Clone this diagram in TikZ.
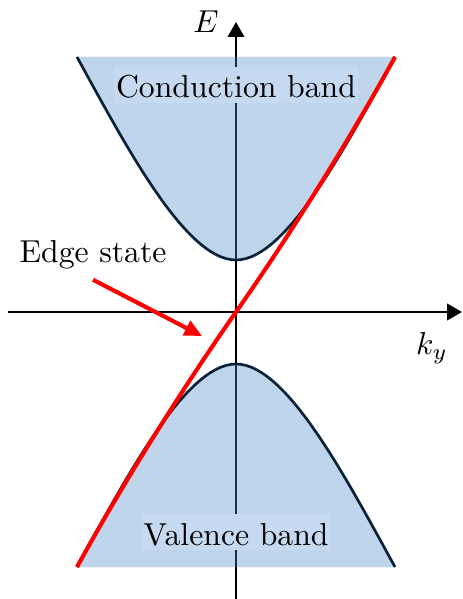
\documentclass[tikz,border=0pt]{standalone}
\usetikzlibrary{arrows.meta}

\definecolor{bandfill}{RGB}{72,136,197}
\definecolor{bandline}{RGB}{10,34,56}
\definecolor{labelfill}{RGB}{197,218,240}

\begin{document}
\begin{tikzpicture}[
  x=3.15pt, y=3.15pt,
  axis/.style={draw, line width=0.65pt, -{Triangle[length=4.7pt,width=5.2pt]}},
  band/.style={fill=bandfill, fill opacity=0.35},
  bandedge/.style={draw=bandline, line width=0.85pt},
  edgecurve/.style={draw=red, line width=1.3pt},
  arrow/.style={draw=red, line width=1.3pt, -{Triangle[length=5.5pt,width=5pt]}},
  bandlabel/.style={fill=labelfill, inner xsep=0.5pt, inner ysep=1.5pt,
                    text height=8.3pt, text depth=0pt, anchor=base}]

  \useasboundingbox (-23.6,-28.7) rectangle (22.6,31.2);

  % ---- axes ---------------------------------------------------------------
  \coordinate (kmin) at (-22.8,0);
  \coordinate (kmax) at (22.6,0);
  \coordinate (Emin) at (0,-28.7);
  \coordinate (Emax) at (0,29.0);
  \draw[axis] (kmin) -- (kmax);
  \draw[axis] (Emin) -- (Emax);

  % ---- bands --------------------------------------------------------------
  \path[band] (-15.9,25.5) .. controls (-10.9,16.4) and (-5,5.2) .. (0,5.2)
              .. controls (5,5.2) and (10.9,16.4) .. (15.9,25.5) -- cycle;
  \path[band] (-15.9,-25.5) .. controls (-10.9,-16.4) and (-5,-5.2) .. (0,-5.2)
              .. controls (5,-5.2) and (10.9,-16.4) .. (15.9,-25.5) -- cycle;
  \draw[bandedge] (-15.9,25.5) .. controls (-10.9,16.4) and (-5,5.2) .. (0,5.2)
                  .. controls (5,5.2) and (10.9,16.4) .. (15.9,25.5);
  \draw[bandedge] (-15.9,-25.5) .. controls (-10.9,-16.4) and (-5,-5.2) .. (0,-5.2)
                  .. controls (5,-5.2) and (10.9,-16.4) .. (15.9,-25.5);

  % ---- edge state ---------------------------------------------------------
  \draw[edgecurve] (-15.9,-25.5) .. controls (-10.9,-16.4) and (-5,-7.15) .. (0,0)
                   .. controls (5,7.15) and (10.9,16.4) .. (15.9,25.5);

  % ---- labels -------------------------------------------------------------
  \node (E)  at (-3.0,29.0) {$E$};
  \node (ky) at (19.6,-3.6) {$k_y$};
  \node[bandlabel] (cb) at (0,21.4)  {Conduction band};
  \node[bandlabel] (vb) at (0,-23.3) {Valence band};
  \node[anchor=base] (es) at (-14.3,5.0) {Edge state};
  \coordinate (estip) at (-3.4,-2.4);
  \draw[arrow] (es.south) -- (estip);
\end{tikzpicture}
\end{document}
